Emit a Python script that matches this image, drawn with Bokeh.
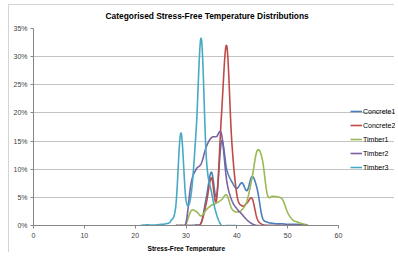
from bokeh.plotting import figure
from bokeh.models import (NumeralTickFormatter, FixedTicker, Legend, LegendItem,
                          Range1d, Title)
from bokeh.embed import file_html
from bokeh.resources import INLINE

# ---- data ----
temps_main = list(range(28, 55))
concrete1 = [0, 0, 0, 0, 0.1, 0.5, 5.0, 9.5, 5.2, 15.0, 10.0, 7.8, 6.6, 7.6, 6.2, 8.7,
             6.5, 1.5, 0.6, 0.4, 0.3, 0.3, 0.2, 0.2, 0.2, 0.1, 0.1]
concrete2 = [0, 0, 0, 0, 0, 0.5, 4.0, 8.5, 4.5, 20.0, 32.0, 15.0, 5.5, 3.5, 4.0, 4.8,
             1.2, 0.2, 0, 0, 0, 0, 0, 0, 0, 0, 0]
timber1 = [0, 0, 0.3, 2.6, 2.5, 1.7, 2.8, 3.6, 4.0, 4.6, 5.4, 3.0, 2.4, 2.8, 4.4, 8.5,
           13.3, 11.8, 5.5, 5.2, 5.1, 4.6, 2.3, 1.0, 0.6, 0.3, 0.1]
timber2 = [0, 0, 0.5, 7.5, 10.0, 11.0, 14.0, 15.6, 15.8, 16.2, 8.0, 4.5, 3.0, 2.0, 1.0,
           0.3, 0, 0, 0, 0, 0, 0, 0, 0, 0, 0, 0]
temps_t3 = list(range(21, 41))
timber3 = [0, 0.1, 0.1, 0.1, 0.2, 0.3, 0.8, 3.5, 16.5, 4.5, 5.5, 17.0, 33.3, 12.0, 6.0,
           2.0, 0, 0, 0, 0]

series_names = ["Concrete1", "Concrete2", "Timber1", "Timber2", "Timber3"]
series_x = [temps_main, temps_main, temps_main, temps_main, temps_t3]
series_y = [concrete1, concrete2, timber1, timber2, timber3]
colors = ["#4A7EBB", "#BE4B48", "#98B954", "#7D60A0", "#46AAC5"]

x_ticks = [0, 10, 20, 30, 40, 50, 60]
y_ticks = [0, 0.05, 0.10, 0.15, 0.20, 0.25, 0.30, 0.35]
X_MIN, X_MAX = 0, 60


def smooth(xs, ys, n=12):
    """Catmull-Rom rendering of the line (like Excel's smoothed line)."""
    px, py = [], []
    m = len(xs)
    for i in range(m - 1):
        x0, y0 = (xs[i - 1], ys[i - 1]) if i > 0 else (xs[i], ys[i])
        x1, y1 = xs[i], ys[i]
        x2, y2 = xs[i + 1], ys[i + 1]
        x3, y3 = (xs[i + 2], ys[i + 2]) if i + 2 < m else (x2, y2)
        for k in range(n):
            t = k / n
            t2, t3 = t * t, t * t * t
            a = -0.5 * t3 + t2 - 0.5 * t
            b = 1.5 * t3 - 2.5 * t2 + 1
            c = -1.5 * t3 + 2 * t2 + 0.5 * t
            d = 0.5 * t3 - 0.5 * t2
            px.append(a * x0 + b * x1 + c * x2 + d * x3)
            py.append(a * y0 + b * y1 + c * y2 + d * y3)
    px.append(xs[-1])
    py.append(ys[-1])
    return px, py


FONT = "Liberation Sans"
OFF_X, OFF_Y = 9, 5    # chart-area border sits at page x=8, y=4
LEFT = 33 - OFF_X
TOP = 27 - OFF_Y
PLOT_W = 305           # pixel width of the 0..60 axis
W, H = 386, 248
x_end = X_MAX * (W - LEFT) / PLOT_W

p = figure(width=W, height=H, output_backend="svg", toolbar_location=None,
           x_range=Range1d(X_MIN, x_end), y_range=Range1d(0, 0.35),
           min_border_left=LEFT, min_border_right=0, min_border_top=TOP,
           min_border_bottom=H - (226 - OFF_Y),
           styles={"margin-left": "8px", "margin-top": "4px",
                   "border-left": "1px solid #d4d4d4",
                   "border-top": "1px solid #d4d4d4"})
p.title = None
p.add_layout(Title(text="Categorised Stress-Free Temperature Distributions",
                   text_font=FONT, text_font_size="8.4px", text_font_style="bold",
                   text_color="#000000", align="left", offset=72, standoff=11,
                   vertical_align="top"), "above")

p.outline_line_color = None
p.background_fill_color = "white"
p.border_fill_color = "white"

p.xgrid.visible = False
p.ygrid.grid_line_color = "#c4c4c4"
p.ygrid.grid_line_width = 1
p.ygrid.ticker = FixedTicker(ticks=y_ticks)
p.ygrid.bounds = (X_MIN, X_MAX)

p.xaxis.ticker = FixedTicker(ticks=x_ticks)
p.xaxis.bounds = (X_MIN, X_MAX)
p.yaxis.ticker = FixedTicker(ticks=y_ticks)
p.yaxis.formatter = NumeralTickFormatter(format="0%")
for ax in (p.xaxis[0], p.yaxis[0]):
    ax.axis_line_color = "#868686"
    ax.major_tick_line_color = "#868686"
    ax.minor_tick_line_color = None
    ax.major_tick_in = 0
    ax.major_tick_out = 3
    ax.major_label_text_font = FONT
    ax.major_label_text_font_size = "7px"
    ax.major_label_text_color = "#404040"
    ax.major_label_standoff = 3
p.xaxis.major_label_standoff = 4

p.add_layout(Title(text="Stress-Free Temperature", text_font=FONT,
                   text_font_size="6.6px", text_font_style="bold",
                   text_color="#000000", align="left", offset=114, standoff=4), "below")

items = []
for name, xs, ys, col in zip(series_names, series_x, series_y, colors):
    sx, sy = smooth(xs, [v / 100.0 for v in ys])
    r = p.line(sx, sy, line_color=col, line_width=1.6)
    items.append(LegendItem(label=name, renderers=[r]))

legend = Legend(items=items, location=(317, 53), orientation="vertical",
                label_text_font=FONT, label_text_font_size="7px",
                label_text_color="#000000", glyph_width=12, glyph_height=10,
                label_height=10, label_standoff=1, spacing=4, padding=0, margin=0,
                border_line_alpha=0, background_fill_alpha=0)
p.add_layout(legend, "center")

open("out.html", "w").write(file_html(p, INLINE))
